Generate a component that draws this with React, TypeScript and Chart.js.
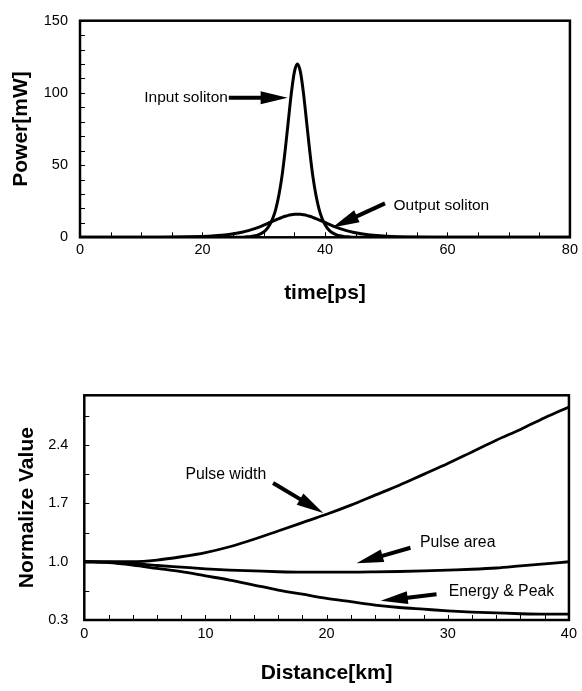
import React, { useEffect, useRef } from "react";
import { Chart, registerables } from "chart.js";

Chart.register(...registerables);

const FONT = '"Liberation Sans", Arial, Helvetica, sans-serif';

// ---------- Top chart data (time in ps, power in mW) ----------
const timePs = [0, 10, 20, 22, 24, 26, 27, 28, 29, 30, 30.5, 31, 31.5, 32, 32.5, 33, 33.5, 34, 34.5, 35, 35.5, 36, 36.5, 37, 37.5, 38, 38.5, 39, 39.5, 40, 40.5, 41, 42, 43, 44, 45, 47, 49, 51, 60, 70, 80];
const inputSoliton = [0, 0, 0, 0, 0, 0.1, 0.27, 0.65, 1.56, 3.7, 5.7, 8.8, 13.3, 20.1, 29.8, 42.9, 60.2, 79.9, 99.5, 114.4, 120, 114.4, 99.5, 79.9, 60.2, 42.9, 29.8, 20.1, 13.3, 8.8, 5.7, 3.7, 1.56, 0.65, 0.27, 0.1, 0, 0, 0, 0, 0, 0];
const outputSoliton = [0, 0, 0.55, 1.0, 1.8, 3.1, 4.1, 5.3, 6.7, 8.4, 9.3, 10.3, 11.2, 12.1, 13.0, 13.8, 14.6, 15.2, 15.6, 15.9, 16, 15.9, 15.6, 15.2, 14.6, 13.8, 13.0, 12.1, 11.2, 10.3, 9.3, 8.4, 6.7, 5.3, 4.1, 3.1, 1.8, 1.0, 0.55, 0.05, 0, 0];
const topXTicks = [0, 20, 40, 60, 80];
const topYTicks = [0, 50, 100, 150];

// ---------- Bottom chart data (distance in km, normalized value) ----------
const distanceKm = [0, 2, 4, 6, 8, 10, 12, 14, 16, 18, 20, 22, 24, 26, 28, 30, 32, 34, 36, 38, 40];
const pulseWidth = [1.0, 1.0, 1.0, 1.02, 1.06, 1.11, 1.18, 1.27, 1.37, 1.47, 1.57, 1.68, 1.8, 1.92, 2.05, 2.18, 2.32, 2.46, 2.59, 2.73, 2.86];
const pulseArea = [1.0, 0.995, 0.98, 0.955, 0.935, 0.915, 0.9, 0.89, 0.88, 0.875, 0.875, 0.875, 0.878, 0.883, 0.89, 0.9, 0.91, 0.925, 0.95, 0.975, 1.0];
const energyPeak = [1.0, 0.99, 0.96, 0.92, 0.88, 0.83, 0.78, 0.72, 0.66, 0.61, 0.56, 0.52, 0.48, 0.45, 0.43, 0.41, 0.395, 0.385, 0.375, 0.37, 0.37];
const bottomXTicks = [0, 10, 20, 30, 40];
const bottomYTicks = [0.3, 1.0, 1.7, 2.4];

// ---------- Annotations (data coordinates) ----------
const topNotes = [
  { text: "Input soliton", tx: 10.5, ty: 96.7, from: [24.3, 96.7], to: [33.9, 96.7] },
  { text: "Output soliton", tx: 51.2, ty: 21.9, from: [49.8, 23.5], to: [41.2, 6.8] },
];
const bottomNotes = [
  { text: "Pulse width", tx: 8.35, ty: 2.05, from: [15.58, 1.946], to: [19.72, 1.586] },
  { text: "Pulse area", tx: 27.7, ty: 1.226, from: [26.92, 1.168], to: [22.47, 0.982] },
  { text: "Energy & Peak", tx: 30.08, ty: 0.646, from: [29.07, 0.61], to: [24.47, 0.53] },
];

function range(a: number, b: number, step: number) {
  const out: number[] = [];
  for (let i = 0; a + i * step <= b + 1e-9; i++) out.push(+(a + i * step).toFixed(4));
  return out;
}

function drawArrow(ctx: CanvasRenderingContext2D, x1: number, y1: number, x2: number, y2: number) {
  const headLen = 27;
  const headHalf = 6.5;
  const ang = Math.atan2(y2 - y1, x2 - x1);
  const bx = x2 - headLen * Math.cos(ang);
  const by = y2 - headLen * Math.sin(ang);
  ctx.lineWidth = 4;
  ctx.beginPath();
  ctx.moveTo(x1, y1);
  ctx.lineTo(bx + Math.cos(ang) * 2, by + Math.sin(ang) * 2);
  ctx.stroke();
  ctx.beginPath();
  ctx.moveTo(x2, y2);
  ctx.lineTo(bx + headHalf * Math.sin(ang), by - headHalf * Math.cos(ang));
  ctx.lineTo(bx - headHalf * Math.sin(ang), by + headHalf * Math.cos(ang));
  ctx.closePath();
  ctx.fill();
}

const framePlugin = {
  id: "frame",
  afterDatasetsDraw(chart: any, _args: any, opts: any) {
    const { ctx, chartArea: a, scales } = chart;
    const x = scales.x;
    const y = scales.y;
    ctx.save();
    ctx.strokeStyle = "#000";
    ctx.fillStyle = "#000";
    ctx.lineWidth = 1;
    ctx.beginPath();
    for (const v of opts.xMinor || []) {
      const px = Math.round(x.getPixelForValue(v)) + 0.5;
      ctx.moveTo(px, a.bottom);
      ctx.lineTo(px, a.bottom - 5);
    }
    for (const v of opts.yMinor || []) {
      const py = Math.round(y.getPixelForValue(v)) + 0.5;
      ctx.moveTo(a.left, py);
      ctx.lineTo(a.left + 5, py);
    }
    ctx.stroke();
    ctx.lineWidth = 2.5;
    ctx.strokeRect(a.left, a.top, a.right - a.left, a.bottom - a.top);

    ctx.font = `${opts.noteSize}px ${FONT}`;
    ctx.textAlign = "left";
    ctx.textBaseline = "middle";
    for (const n of opts.notes || []) {
      ctx.fillText(n.text, x.getPixelForValue(n.tx), y.getPixelForValue(n.ty));
      drawArrow(
        ctx,
        x.getPixelForValue(n.from[0]),
        y.getPixelForValue(n.from[1]),
        x.getPixelForValue(n.to[0]),
        y.getPixelForValue(n.to[1])
      );
    }
    ctx.restore();
  },
};

function lineDs(xs: number[], ys: number[], width: number) {
  return {
    data: xs.map((t, i) => ({ x: t, y: ys[i] })),
    borderColor: "#000",
    borderWidth: width,
    pointRadius: 0,
    fill: false,
    cubicInterpolationMode: "monotone" as const,
    borderJoinStyle: "round" as const,
    borderCapStyle: "round" as const,
  };
}

function makeScales(p: any) {
  return {
    x: {
      type: "linear",
      min: p.xMin,
      max: p.xMax,
      afterBuildTicks: (s: any) => {
        s.ticks = p.xTicks.map((v: number) => ({ value: v }));
      },
      ticks: {
        color: "#000",
        padding: p.xTickPad,
        maxRotation: 0,
        autoSkip: false,
        font: { family: FONT, size: p.tickSize },
        callback: (v: any) => String(v),
      },
      grid: { display: false, drawTicks: false },
      border: { display: false },
      title: {
        display: true,
        text: p.xTitle,
        color: "#000",
        font: { family: FONT, size: 21, weight: "bold" },
        padding: { top: 0, bottom: 0 },
      },
      afterFit: (s: any) => {
        s.height = p.xHeight;
      },
    },
    y: {
      type: "linear",
      min: p.yMin,
      max: p.yMax,
      afterBuildTicks: (s: any) => {
        s.ticks = p.yTicks.map((v: number) => ({ value: v }));
      },
      ticks: {
        color: "#000",
        padding: p.yTickPad,
        autoSkip: false,
        font: { family: FONT, size: p.tickSize },
        callback: p.yFmt,
      },
      grid: { display: false, drawTicks: false },
      border: { display: false },
      title: {
        display: true,
        text: p.yTitle,
        color: "#000",
        font: { family: FONT, size: 21, weight: "bold" },
        padding: { top: p.yTitlePad, bottom: 0 },
      },
      afterFit: (s: any) => {
        s.width = p.yWidth;
      },
    },
  };
}

export default function App() {
  const topRef = useRef<HTMLCanvasElement>(null);
  const botRef = useRef<HTMLCanvasElement>(null);

  useEffect(() => {
    const top = new Chart(topRef.current as HTMLCanvasElement, {
      type: "line",
      data: {
        datasets: [lineDs(timePs, inputSoliton, 3), lineDs(timePs, outputSoliton, 3)],
      },
      options: {
        animation: false,
        responsive: false,
        layout: { padding: { left: 0, right: 7, top: 16.5, bottom: 24.4 } },
        plugins: {
          legend: { display: false },
          tooltip: { enabled: false },
          frame: {
            xMinor: range(0, 80, 5),
            yMinor: range(0, 150, 10),
            notes: topNotes,
            noteSize: 15.5,
          },
        } as any,
        scales: makeScales({
          xMin: 0, xMax: 80, xTicks: topXTicks, xTickPad: 4, xTitle: "time[ps]", xHeight: 68.3,
          yMin: 0, yMax: 150, yTicks: topYTicks, yTickPad: 12, yTitle: "Power[mW]", yTitlePad: 8.4, yWidth: 80,
          tickSize: 14.5, yFmt: (v: any) => String(v),
        }) as any,
      },
      plugins: [framePlugin],
    });

    const bot = new Chart(botRef.current as HTMLCanvasElement, {
      type: "line",
      data: {
        datasets: [
          lineDs(distanceKm, pulseWidth, 2.8),
          lineDs(distanceKm, pulseArea, 2.8),
          lineDs(distanceKm, energyPeak, 2.8),
        ],
      },
      options: {
        animation: false,
        responsive: false,
        layout: { padding: { left: 0, right: 12.7, top: 65.3, bottom: 5.4 } },
        plugins: {
          legend: { display: false },
          tooltip: { enabled: false },
          frame: {
            xMinor: range(0, 40, 2),
            yMinor: range(0.3, 3.0, 0.35),
            notes: bottomNotes,
            noteSize: 15.8,
          },
        } as any,
        scales: makeScales({
          xMin: 0, xMax: 40, xTicks: bottomXTicks, xTickPad: 5, xTitle: "Distance[km]", xHeight: 65.6,
          yMin: 0.3, yMax: 3.0, yTicks: bottomYTicks, yTickPad: 16, yTitle: "Normalize Value", yTitlePad: 15.1, yWidth: 84.3,
          tickSize: 14.5, yFmt: (v: any) => Number(v).toFixed(1),
        }) as any,
      },
      plugins: [framePlugin],
    });

    return () => {
      top.destroy();
      bot.destroy();
    };
  }, []);

  return (
    <div style={{ position: "absolute", left: 0, top: 0, width: 582, height: 691, background: "#fff" }}>
      <canvas ref={topRef} width={582} height={330} style={{ display: "block" }} />
      <canvas ref={botRef} width={582} height={361} style={{ display: "block" }} />
    </div>
  );
}
